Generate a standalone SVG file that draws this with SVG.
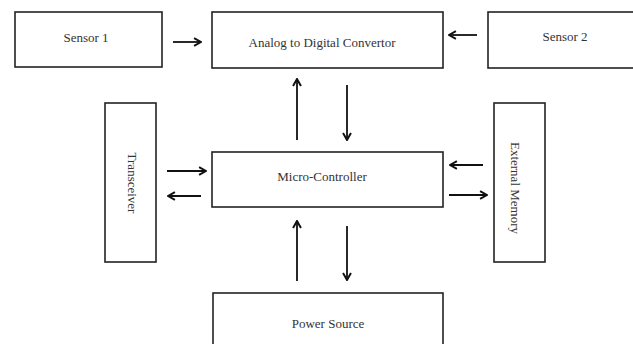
<svg xmlns="http://www.w3.org/2000/svg" width="633" height="344" viewBox="0 0 633 344">
<style>
.box{fill:#fff;stroke:#222;stroke-width:1.6}
.lbl{font-family:"Liberation Serif","Times New Roman",serif;font-size:13px;fill:#333;text-anchor:middle}
.conn line{stroke:#111;stroke-width:1.8;marker-end:url(#ah)}
</style>
<defs>
<marker id="ah" viewBox="0 0 10 10" refX="9" refY="5" markerWidth="5.5" markerHeight="5.5" orient="auto" markerUnits="strokeWidth">
<path d="M2,1 L9,5 L2,9" fill="none" stroke="#111" stroke-width="2"/>
</marker>
</defs>
<rect width="633" height="344" fill="#fff"/>
<g id="sensor1"><rect class="box" x="15" y="12" width="147" height="55"/><text class="lbl" x="86" y="42">Sensor 1</text></g>
<g id="adc"><rect class="box" x="212" y="12" width="231" height="56"/><text class="lbl" x="322" y="47">Analog to Digital Convertor</text></g>
<g id="sensor2"><rect class="box" x="488" y="12" width="160" height="56"/><text class="lbl" x="565" y="41">Sensor 2</text></g>
<g id="transceiver"><rect class="box" x="105" y="103" width="51" height="159"/><text class="lbl" transform="translate(128,183) rotate(90)">Transceiver</text></g>
<g id="mcu"><rect class="box" x="212" y="152" width="231" height="55"/><text class="lbl" x="322" y="181">Micro-Controller</text></g>
<g id="extmem"><rect class="box" x="494" y="103" width="51" height="159"/><text class="lbl" transform="translate(511,188) rotate(90)">External Memory</text></g>
<g id="power"><rect class="box" x="213" y="293" width="230" height="60"/><text class="lbl" x="328" y="328">Power Source</text></g>
<g class="conn" id="connectors">
<line x1="173" y1="42" x2="201" y2="42"/>
<line x1="477" y1="35" x2="449" y2="35"/>
<line x1="297" y1="140" x2="297" y2="79"/>
<line x1="347" y1="85" x2="347" y2="140"/>
<line x1="167" y1="171" x2="206" y2="171"/>
<line x1="201" y1="196" x2="168" y2="196"/>
<line x1="483" y1="165" x2="450" y2="165"/>
<line x1="449" y1="195" x2="487" y2="195"/>
<line x1="297" y1="281" x2="297" y2="221"/>
<line x1="347" y1="226" x2="347" y2="280"/>
</g>
</svg>
